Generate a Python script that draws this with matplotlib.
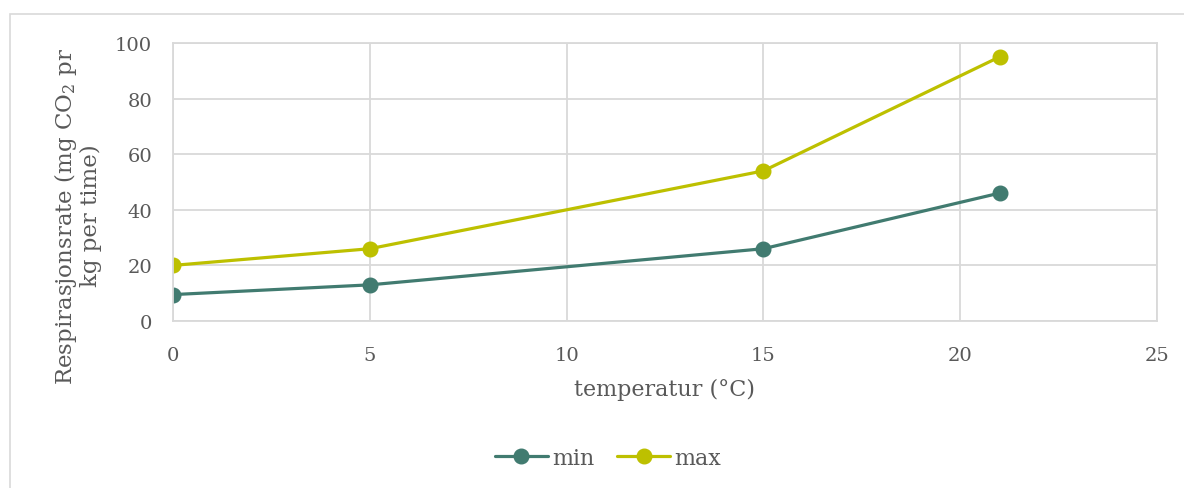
import matplotlib
matplotlib.use("Agg")
import matplotlib.pyplot as plt
from matplotlib.patches import Rectangle

# Data
temperature = [0, 5, 15, 21]
resp_min = [9.5, 13, 26, 46]
resp_max = [20, 26, 54, 95]
x_ticks = [0, 5, 10, 15, 20, 25]
y_ticks = [0, 20, 40, 60, 80, 100]

color_min = "#417B70"
color_max = "#BDC000"
grid_color = "#D9D9D9"
text_color = "#595959"

plt.rcParams["font.family"] = ["DejaVu Serif"]
plt.rcParams["mathtext.fontset"] = "dejavuserif"

W, H = 1184, 489
fig = plt.figure(figsize=(W / 100, H / 100), dpi=100)

# chart frame
fig.patches.append(Rectangle((10 / W, -0.1), 1.2, 1 - 15 / H + 0.1,
                             transform=fig.transFigure, fill=False,
                             edgecolor=grid_color, linewidth=1.2))

ax = fig.add_axes([173 / W, 1 - 322 / H, (1157 - 173) / W, (322 - 44) / H])
ax.plot(temperature, resp_min, color=color_min, lw=2.3, marker="o", ms=10.5,
        label="min", solid_capstyle="round")
ax.plot(temperature, resp_max, color=color_max, lw=2.3, marker="o", ms=10.5,
        label="max", solid_capstyle="round")

ax.set_xlim(0, 25)
ax.set_ylim(0, 100)
ax.set_xticks(x_ticks)
ax.set_yticks(y_ticks)
ax.grid(True, color=grid_color, lw=1.3)
ax.set_axisbelow(True)
for s in ax.spines.values():
    s.set_color(grid_color)
    s.set_linewidth(1.3)
ax.tick_params(length=0, labelsize=14, colors=text_color)
ax.tick_params(axis="y", pad=15)
ax.tick_params(axis="x", pad=18)

ax.set_xlabel("temperatur (°C)", fontsize=16, color=text_color, labelpad=10)
fig.text(77 / W, 1 - 216 / H, "Respirasjonsrate (mg CO$_2$ pr\nkg per time)",
         rotation=90, ha="center", va="center", fontsize=16.5,
         color=text_color, linespacing=1.05, multialignment="center")

leg = fig.legend(loc="center", bbox_to_anchor=(608 / W, 1 - 459 / H), ncol=2,
                 frameon=False, fontsize=16, handlelength=2.4,
                 handletextpad=0.2, columnspacing=1.0, labelcolor=text_color)

fig.savefig("out.png", dpi=100, facecolor="white")
